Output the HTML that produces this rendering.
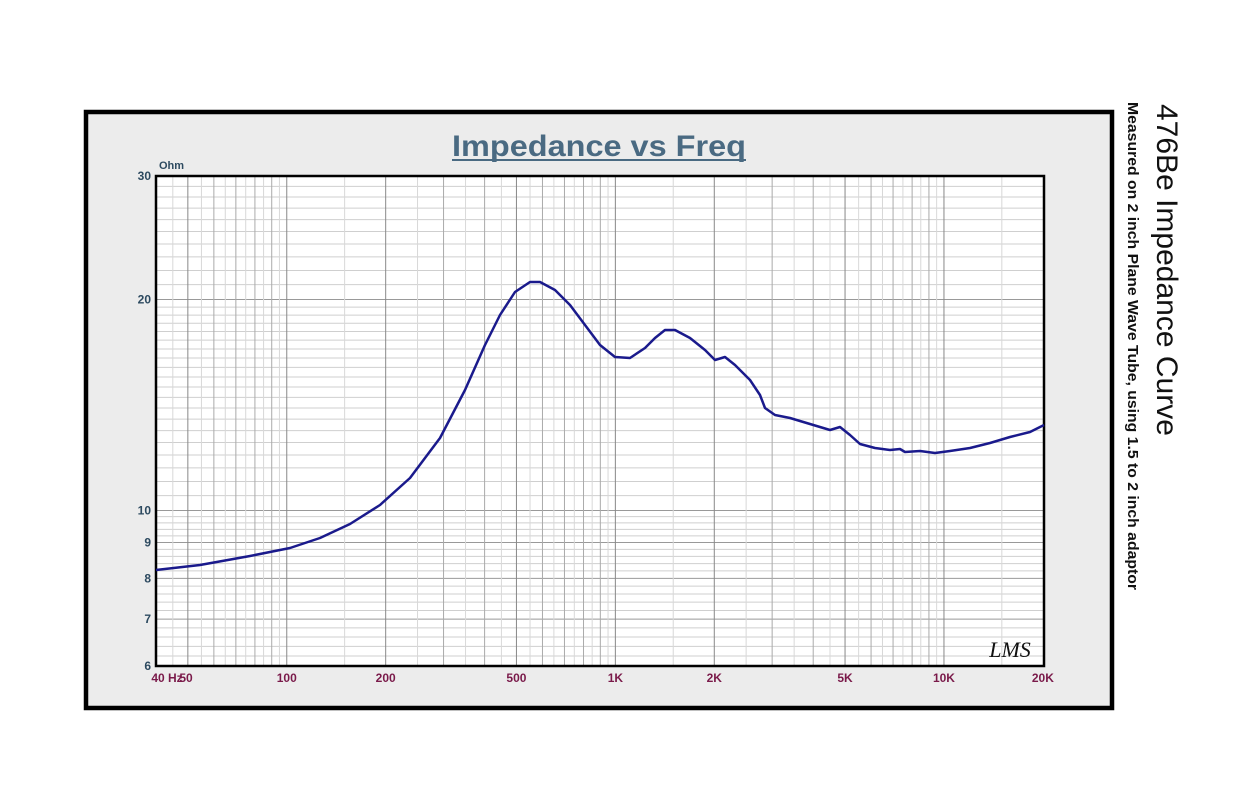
<!DOCTYPE html>
<html><head><meta charset="utf-8"><style>
body{margin:0;background:#fff;width:1240px;height:800px;overflow:hidden}
svg{display:block}
</style></head><body>
<svg id="s" width="1240" height="800" xmlns="http://www.w3.org/2000/svg" font-family="Liberation Sans, sans-serif">
<rect x="0" y="0" width="1240" height="800" fill="#fff"/>
<rect x="86" y="112" width="1026" height="596" fill="#ececec" stroke="#000" stroke-width="4.5"/>
<rect x="156" y="176" width="888" height="490" fill="#fff"/>
<g id="grid"></g>
<rect x="156" y="176" width="888" height="490" fill="none" stroke="#000" stroke-width="2.5"/>
<text x="599" y="156" text-anchor="middle" font-size="30" font-weight="bold" fill="#4a6a82" textLength="294" lengthAdjust="spacingAndGlyphs">Impedance vs Freq</text>
<line x1="452" y1="160" x2="746" y2="160" stroke="#4a6a82" stroke-width="2"/>
<text x="159" y="169" font-size="11" font-weight="bold" fill="#2d4a60">Ohm</text>
<g font-size="12" font-weight="bold" fill="#2d4a60" text-anchor="end" id="yl"></g>
<g font-size="12" font-weight="bold" fill="#7a1a4a" text-anchor="middle" id="xl"></g>
<polyline id="curve" fill="none" stroke="#1a1a8c" stroke-width="2.5" stroke-linejoin="round"/>
<text x="1010" y="657" font-size="22" font-style="italic" fill="#111" font-family="Liberation Serif, serif" text-anchor="middle">LMS</text>
<text transform="translate(1157,104) rotate(90)" font-size="30" fill="#111">476Be Impedance Curve</text>
<text transform="translate(1128,102) rotate(90)" font-size="14.5" font-weight="bold" fill="#111" textLength="488" lengthAdjust="spacingAndGlyphs">Measured on 2 inch Plane Wave Tube, using 1.5 to 2 inch adaptor</text>
</svg>
<script>
const NS="http://www.w3.org/2000/svg";
const X=f=>156+(Math.log10(f)-Math.log10(40))*328.6;
const Y=v=>666-(Math.log10(v)-Math.log10(6))*701;
const g=document.getElementById('grid');
function ln(x1,y1,x2,y2,c,w){const l=document.createElementNS(NS,'line');l.setAttribute('x1',x1);l.setAttribute('y1',y1);l.setAttribute('x2',x2);l.setAttribute('y2',y2);l.setAttribute('stroke',c);l.setAttribute('stroke-width',w);g.appendChild(l);}
let ys=[];
for(let v=6;v<10-1e-6;v+=0.2)ys.push(v);
for(let v=10;v<20-1e-6;v+=0.5)ys.push(v);
for(let v=20;v<30-1e-6;v+=1)ys.push(v);
ys.forEach(v=>{const y=Y(v);const major=[7,8,9,10,20].some(m=>Math.abs(m-v)<1e-6);ln(156,y,1044,y,major?'#999':'#cfcfcf',1);});
let xs=[];
for(let f=40;f<100;f+=5)xs.push(f);
for(let d=100;d<=10000;d*=10)for(let k=1;k<10;k+=0.5){const f=k*d;if(f<20000)xs.push(f);}
xs.forEach(f=>{const x=X(f);const major=[50,100,200,500,1000,2000,5000,10000].some(m=>Math.abs(m-f)<1e-6);const isInt=Math.abs(f/Math.pow(10,Math.floor(Math.log10(f)))-Math.round(f/Math.pow(10,Math.floor(Math.log10(f)))))<1e-6;ln(x,176,x,666,major?'#888':(isInt?'#aaa':'#d8d8d8'),1);});
const yl=document.getElementById('yl');
[30,20,10,9,8,7,6].forEach(v=>{const t=document.createElementNS(NS,'text');t.setAttribute('x',151);t.setAttribute('y',Y(v)+4);t.textContent=v;yl.appendChild(t);});
const xl=document.getElementById('xl');
[['40 Hz',167,40],['50',186,50],['100',0,100],['200',0,200],['500',0,500],['1K',0,1000],['2K',0,2000],['5K',0,5000],['10K',0,10000],['20K',0,20000]].forEach(([s,px,f])=>{const t=document.createElementNS(NS,'text');t.setAttribute('x',px||X(f));t.setAttribute('y',682);t.textContent=s;xl.appendChild(t);});
const pts=[[156,570],[200,565],[250,556],[290,548],[320,538],[350,524],[380,505],[410,478],[440,438],[465,390],[485,345],[500,315],[515,292],[530,282],[540,282],[555,290],[570,305],[585,325],[600,345],[615,357],[630,358],[645,348],[655,338],[665,330],[675,330],[690,338],[705,350],[715,360],[725,357],[735,365],[750,380],[760,395],[765,408],[775,415],[790,418],[810,424],[830,430],[840,427],[850,435],[860,444],[875,448],[890,450],[900,449],[905,452],[920,451],[935,453],[950,451],[970,448],[990,443],[1010,437],[1030,432],[1044,425]];
document.getElementById('curve').setAttribute('points',pts.map(p=>p.join(',')).join(' '));
</script>
</body></html>
